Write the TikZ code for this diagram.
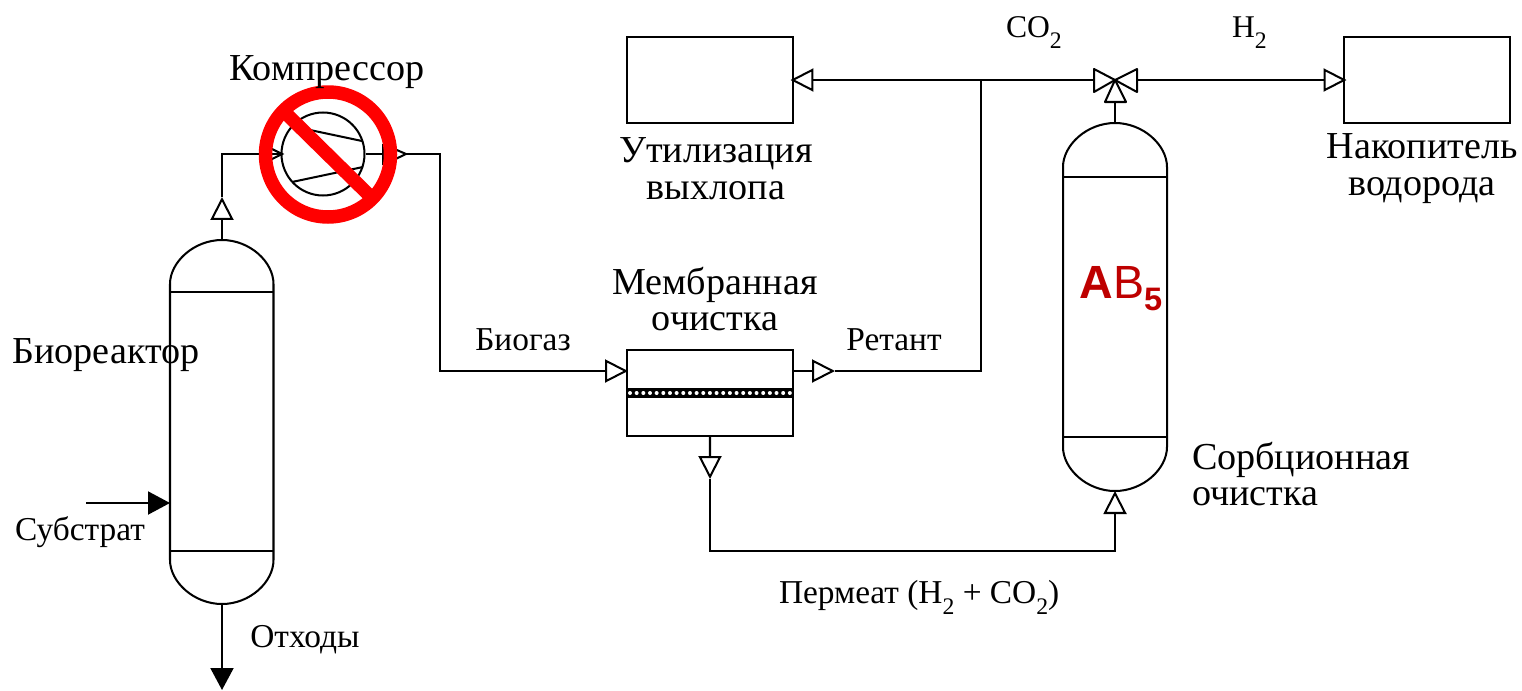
\documentclass[tikz,border=0pt]{standalone}
\usepackage{fontspec}
\setmainfont{Liberation Serif}
\setsansfont{Liberation Sans}
\usetikzlibrary{arrows.meta}
\newcommand{\lowsub}[1]{\raisebox{-6.5pt}{\fontsize{13.5}{14}\selectfont #1}}

\begin{document}
\begin{tikzpicture}[
    x=0.02cm, y=-0.02cm, line width=1.15pt,
    flow/.style={-{Triangle[open,fill=white,length=0.46cm,width=0.46cm]}},
    feed/.style={-{Triangle[length=0.44cm,width=0.46cm]}},
    box/.style={draw,minimum width=3.32cm,minimum height=1.72cm,inner sep=0pt},
    lbl/.style={font=\fontsize{19}{22}\selectfont,align=center},
    big/.style={font=\fontsize{21.7}{21}\selectfont,align=center},
    ban/.style={draw=banred,line width=0.27cm},
]
\definecolor{banred}{RGB}{255,0,0}
\definecolor{sorbred}{RGB}{190,0,0}
\useasboundingbox (0,0) rectangle (1522,690);

% ================= bioreactor =================
\coordinate (bioTop) at (222,240);
\coordinate (bioBot) at (222,604);
\draw (170,284) .. controls (170,262) and (194,240) .. (bioTop)
  .. controls (250,240) and (273.5,262) .. (273.5,284)
  -- (273.5,560) .. controls (273.5,582) and (250,604) .. (bioBot)
  .. controls (194,604) and (170,582) .. (170,560) -- cycle;
\draw (170,292) -- (273.5,292) (170,551) -- (273.5,551);
\coordinate (subIn) at (86,503);
\coordinate (subEnd) at (170,503);
\coordinate (wasteEnd) at (222,690);
\draw[feed] (subIn) -- (subEnd);
\draw[feed] (bioBot) -- (wasteEnd);

% ================= compressor =================
\node[draw,circle,minimum size=1.66cm,inner sep=0pt] (comp) at (323,154) {};
\coordinate (compIn) at (282,154);
\coordinate (compOut) at (383,154);
\coordinate (bioUp) at (222,197);
\draw[flow] (bioTop) -- (bioUp);
\draw (bioUp) |- (compIn);
\draw (268,147) -- (compIn) -- (268,161);
\draw (310,130) -- (362,141) (292,182) -- (363,167);
\draw (comp.east) -- (compOut);
\draw (compOut) ++(0,-10.5) -- ++(0,21);
\coordinate (compTip) at (406,154);
\draw (383,144) -- (compTip) -- (383,165);
\coordinate (pipeEnd) at (628,371);

% ================= membrane =================
\node[box,anchor=north west] (memb) at (626,349) {};
\draw[fill=black] (627,389) rectangle (793,397);
\foreach \i in {0,...,24}{
  \fill[white] (630+\i*6.66,393) circle[radius=2];
}
\draw[flow] (compTip) -| (440,371) -- (pipeEnd);
\coordinate (retOut) at (793,371);
\coordinate (retTip) at (835,371);
\coordinate (branch) at (981,80);
\draw[flow] (retOut) -- (retTip);
\draw (retTip) -| (branch);
\coordinate (permTip) at (710,479);
\draw[flow] (memb.south) -- (permTip);

% ================= sorption column =================
\coordinate (sorbTop) at (1115,123);
\coordinate (sorbBot) at (1115,491);
\draw (1063,167) .. controls (1063,145) and (1087,123) .. (sorbTop)
  .. controls (1143,123) and (1167,145) .. (1167,167)
  -- (1167,447) .. controls (1167,469) and (1143,491) .. (sorbBot)
  .. controls (1087,491) and (1063,469) .. (1063,447) -- cycle;
\draw (1063,177) -- (1167,177) (1063,437) -- (1167,437);
\draw[flow] (permTip) |- (1115,551) -- (sorbBot);

% ================= valve and the two outlets =================
\coordinate (valve) at (1115,80);
\node[box,anchor=north west] (exhaust) at (626,36) {};
\node[box,anchor=north west] (store) at (1343,36) {};
\draw[fill=white,line join=round] (1094,69) -- (valve) -- (1094,92) -- cycle;
\draw[fill=white,line join=round] (1137,69) -- (valve) -- (1137,92) -- cycle;
\draw[fill=white,line join=round] (1105,102) -- (valve) -- (1126,102) -- cycle;
\draw (1115,102) -- (sorbTop);
\draw[flow] (1094,80) -- ([xshift=-2]exhaust.east |- valve);
\draw[flow] (1137,80) -- ([xshift=2]store.west |- valve);

% ================= ban sign =================
\draw[ban] (328,154.5) circle[radius=62.5];
\draw[ban] (285,112.5) -- (372,198);

% ================= labels =================
\node[big] (lblComp) at (327,72) {Компрессор};
\node[big] (lblBio) at (106,355) {Биореактор};
\node[lbl] (lblSub) at (80,532) {Субстрат};
\node[lbl] (lblWaste) at (305,640) {Отходы};
\node[lbl] (lblGas) at (523,340) {Биогаз};
\node[big] (lblMemb) at (715,299) {Мембранная\\очистка};
\node[lbl] (lblRet) at (894,340) {Ретант};
\node[lbl,anchor=base west,inner sep=0pt] (lblPerm) at (778,603) {Пермеат (H\lowsub{2} + CO\lowsub{2})};
\node[big] (lblExh) at (716,169) {Утилизация\\выхлопа};
\node[lbl,anchor=base west,inner sep=0pt,font=\fontsize{18}{20}\selectfont] (lblCO) at (1005,37) {CO\lowsub{2}};
\node[lbl,anchor=base west,inner sep=0pt,font=\fontsize{18}{20}\selectfont] (lblH) at (1231,37) {H\lowsub{2}};
\node[big] (lblStore) at (1422,169) {Накопитель\\водорода};
\node[big,align=left,anchor=west,inner sep=0pt] (lblSorb) at (1191,474) {Сорбционная\\очистка};
\node[anchor=base west,inner sep=0pt,font=\fontsize{26.5}{28}\selectfont\sffamily,text=sorbred] (lblAB) at (1078.5,298) {\textbf{A}B\raisebox{-7pt}{\fontsize{18.5}{20}\selectfont\textbf{5}}};
\end{tikzpicture}
\end{document}
